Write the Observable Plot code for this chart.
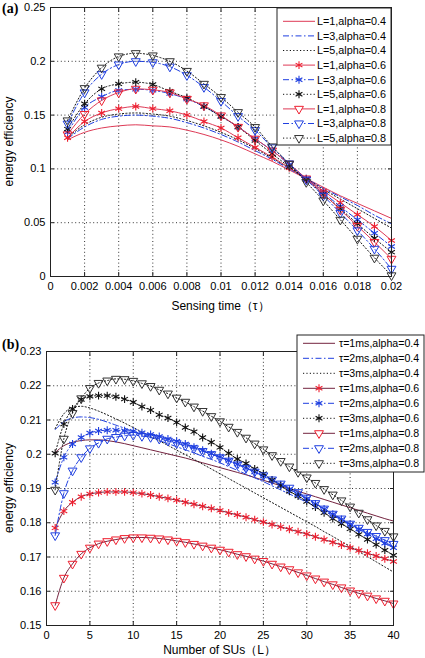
<!DOCTYPE html>
<html><head><meta charset="utf-8">
<script src="https://cdn.jsdelivr.net/npm/d3@7"></script>
<script src="https://cdn.jsdelivr.net/npm/@observablehq/plot@0.6"></script>
<style>
body{margin:0;background:#fff}
#chart svg{display:block}
</style>
</head><body><div id="chart"></div>
<script>
// ---------- Panel (a) data ----------
const tauA = [0.001,0.002,0.003,0.004,0.005,0.006,0.007,0.008,0.009,0.010,0.011,0.012,0.013,0.014,0.015,0.016,0.017,0.018,0.019,0.020];
const xTicksA = [0,0.002,0.004,0.006,0.008,0.010,0.012,0.014,0.016,0.018,0.020];
const yTicksA = [0,0.05,0.10,0.15,0.20,0.25];
const namesA = ["L=1,alpha=0.4","L=3,alpha=0.4","L=5,alpha=0.4","L=1,alpha=0.6","L=3,alpha=0.6","L=5,alpha=0.6","L=1,alpha=0.8","L=3,alpha=0.8","L=5,alpha=0.8"];
const a04L1 = [0.127,0.134,0.138,0.140,0.141,0.140,0.139,0.136,0.132,0.127,0.121,0.114,0.107,0.099,0.091,0.083,0.075,0.068,0.061,0.054];
const a04L3 = [0.128,0.139,0.146,0.149,0.150,0.149,0.147,0.143,0.138,0.132,0.125,0.117,0.109,0.100,0.091,0.082,0.074,0.066,0.057,0.049];
const a04L5 = [0.129,0.141,0.148,0.151,0.152,0.151,0.149,0.145,0.140,0.134,0.127,0.119,0.110,0.101,0.091,0.081,0.072,0.063,0.054,0.045];
const a06L1 = [0.129,0.144,0.152,0.156,0.158,0.156,0.154,0.150,0.144,0.138,0.129,0.120,0.111,0.101,0.091,0.0795,0.0685,0.0575,0.0465,0.0335];
const a06L3 = [0.134,0.157,0.167,0.173,0.174,0.173,0.170,0.165,0.158,0.149,0.139,0.128,0.117,0.104,0.091,0.078,0.065,0.0527,0.0403,0.0279];
const a06L5 = [0.137,0.1605,0.1744,0.179,0.1806,0.1784,0.1722,0.166,0.158,0.1487,0.139,0.1264,0.114,0.102,0.090,0.0765,0.063,0.049,0.0355,0.0226];
const a08L1 = [0.132,0.151,0.1636,0.171,0.1744,0.1735,0.171,0.165,0.159,0.1496,0.139,0.128,0.117,0.1047,0.091,0.077,0.062,0.047,0.032,0.0164];
const a08L3 = [0.142,0.171,0.188,0.197,0.200,0.199,0.195,0.187,0.176,0.163,0.149,0.136,0.120,0.105,0.090,0.075,0.059,0.0428,0.0257,0.0071];
const a08L5 = [0.145,0.175,0.194,0.2045,0.2075,0.2054,0.200,0.191,0.179,0.1667,0.1527,0.1388,0.1208,0.1047,0.0877,0.0706,0.0527,0.035,0.0174,0.001];

// ---------- Panel (b) data ----------
const usersB = [1,2,3,4,5,6,7,8,9,10,11,12,13,14,15,16,17,18,19,20,21,22,23,24,25,26,27,28,29,30,31,32,33,34,35,36,37,38,39,40];
const xTicksB = [0,5,10,15,20,25,30,35,40];
const yTicksB = [0.15,0.16,0.17,0.18,0.19,0.20,0.21,0.22,0.23];
const namesB = ["τ=1ms,alpha=0.4","τ=2ms,alpha=0.4","τ=3ms,alpha=0.4","τ=1ms,alpha=0.6","τ=2ms,alpha=0.6","τ=3ms,alpha=0.6","τ=1ms,alpha=0.8","τ=2ms,alpha=0.8","τ=3ms,alpha=0.8"];
const b04t1 = [0.2005,0.2025,0.2035,0.2040,0.2042,0.2042,0.2040,0.2036,0.2031,0.2025,0.2019,0.2013,0.2007,0.2001,0.1995,0.1989,0.1982,0.1975,0.1968,0.1961,0.1954,0.1947,0.1940,0.1932,0.1924,0.1916,0.1908,0.1900,0.1892,0.1884,0.1876,0.1868,0.1860,0.1852,0.1844,0.1836,0.1828,0.1820,0.1812,0.1805];
const b04t2 = [0.2072,0.2095,0.2106,0.2109,0.2107,0.2102,0.2094,0.2085,0.2076,0.2066,0.2058,0.2049,0.2040,0.2031,0.2022,0.2013,0.2004,0.1994,0.1985,0.1975,0.1964,0.1953,0.1942,0.1931,0.1920,0.1908,0.1896,0.1884,0.1872,0.1860,0.1847,0.1834,0.1821,0.1808,0.1795,0.1782,0.1769,0.1756,0.1743,0.1730];
const b04t3 = [0.2075,0.2118,0.2137,0.2140,0.2135,0.2126,0.2115,0.2103,0.2091,0.2078,0.2065,0.2052,0.2039,0.2026,0.2012,0.1999,0.1985,0.1971,0.1957,0.1943,0.1929,0.1915,0.1901,0.1887,0.1873,0.1859,0.1845,0.1831,0.1817,0.1803,0.1789,0.1774,0.1760,0.1745,0.1731,0.1716,0.1701,0.1686,0.1671,0.1656];
const b06t1 = [0.1785,0.1834,0.1860,0.1876,0.1884,0.1888,0.1890,0.1890,0.1890,0.1888,0.1885,0.1881,0.1876,0.1871,0.1866,0.1860,0.1854,0.1848,0.1842,0.1836,0.1829,0.1823,0.1816,0.1809,0.1802,0.1795,0.1788,0.1781,0.1774,0.1767,0.1759,0.1751,0.1743,0.1735,0.1727,0.1719,0.1711,0.1703,0.1695,0.1687];
const b06t2 = [0.1918,0.1991,0.2030,0.2049,0.2062,0.2068,0.2070,0.2070,0.2069,0.2067,0.2063,0.2058,0.2052,0.2045,0.2038,0.2030,0.2021,0.2012,0.2002,0.1992,0.1982,0.1971,0.1960,0.1948,0.1936,0.1924,0.1911,0.1898,0.1884,0.1870,0.1855,0.1840,0.1825,0.1810,0.1795,0.1781,0.1767,0.1753,0.1740,0.1727];
const b06t3 = [0.2003,0.2088,0.2132,0.2160,0.2169,0.2171,0.2171,0.2168,0.2161,0.2152,0.2139,0.2129,0.2115,0.2106,0.2093,0.2078,0.2066,0.2049,0.2035,0.2020,0.2003,0.1986,0.1973,0.1957,0.1943,0.1925,0.1908,0.1892,0.1878,0.1862,0.1846,0.1829,0.1812,0.1797,0.1782,0.1766,0.1751,0.1736,0.1720,0.1705];
const b08t1 = [0.1559,0.1639,0.1680,0.1709,0.1727,0.1739,0.1746,0.1751,0.1755,0.1757,0.1757,0.1756,0.1754,0.1751,0.1747,0.1743,0.1738,0.1733,0.1727,0.1721,0.1715,0.1708,0.1702,0.1695,0.1688,0.1680,0.1672,0.1664,0.1655,0.1646,0.1637,0.1628,0.1620,0.1611,0.1602,0.1594,0.1587,0.1579,0.1572,0.1564];
const b08t2 = [0.1763,0.1886,0.1952,0.1991,0.2017,0.2033,0.2045,0.2050,0.2054,0.2056,0.2053,0.2050,0.2045,0.2039,0.2032,0.2025,0.2017,0.2009,0.2000,0.1991,0.1981,0.1970,0.1960,0.1949,0.1938,0.1926,0.1914,0.1902,0.1889,0.1873,0.1857,0.1841,0.1826,0.1812,0.1797,0.1785,0.1773,0.1761,0.1749,0.1738];
const b08t3 = [0.1896,0.2045,0.2120,0.2163,0.2193,0.2208,0.2215,0.2220,0.2219,0.2214,0.2207,0.2199,0.2188,0.2177,0.2165,0.2153,0.2139,0.2126,0.2111,0.2096,0.2080,0.2065,0.2048,0.2031,0.2014,0.1997,0.1980,0.1964,0.1948,0.1932,0.1916,0.1898,0.1882,0.1865,0.1847,0.1829,0.1810,0.1792,0.1776,0.1760];

// ---------- styles ----------
const RED_A = "#de3a56", RED_M = "#ee1f2f", BLUE = "#1f3fe0", BLACK = "#111111", MAROON = "#74233f";
const DASHDOT = "6,2.5,1.5,2.5", DOT = "1.2,2.2";
const FONT = "'Liberation Sans', Arial, sans-serif";

const triDown = {
  draw(ctx, size) {
    const R = Math.sqrt(4 * size / (3 * Math.sqrt(3)));
    ctx.moveTo(0, R);
    ctx.lineTo(R * 0.866, -R / 2);
    ctx.lineTo(-R * 0.866, -R / 2);
    ctx.closePath();
  }
};

const fmtNum = d => String(+(+d).toFixed(4));

function makePanel(o) {
  const marks = [
    Plot.gridX(o.xTicks, {stroke: "#000", strokeOpacity: 0.8, strokeDasharray: "1,2.6"}),
    Plot.gridY(o.yTicks, {stroke: "#000", strokeOpacity: 0.8, strokeDasharray: "1,2.6"})
  ];
  o.series.forEach((s, i) => {
    const d = s.values.map((v, j) => ({x: o.xs[j], y: v}));
    marks.push(Plot.line(d, {x: "x", y: "y", stroke: s.line, strokeWidth: 1, strokeDasharray: s.dash, curve: "monotone-x"}));
    if (s.marker === "tri") marks.push(Plot.dot(d, {x: "x", y: "y", symbol: triDown, r: 3.3, stroke: s.mcolor, fill: "none", strokeWidth: 1}));
    if (s.marker === "ast") marks.push(Plot.dot(d, {x: "x", y: "y", symbol: "asterisk", r: 3.7, stroke: s.mcolor, strokeWidth: 1.1}));
  });
  marks.push(Plot.frame({stroke: "#222", strokeWidth: 1}));
  marks.push(Plot.axisX(o.xTicks, {anchor: "bottom", tickSize: 0, tickPadding: o.padX, tickFormat: fmtNum, label: null}));
  marks.push(Plot.axisY(o.yTicks, {anchor: "left", tickSize: 0, tickPadding: o.padY, tickFormat: fmtNum, label: null}));
  marks.push(Plot.axisX(o.xTicks, {anchor: "bottom", tickSize: -4, tickFormat: () => "", label: null, stroke: "#222"}));
  marks.push(Plot.axisX(o.xTicks, {anchor: "top", tickSize: -4, tickFormat: () => "", label: null, stroke: "#222"}));
  marks.push(Plot.axisY(o.yTicks, {anchor: "left", tickSize: -4, tickFormat: () => "", label: null, stroke: "#222"}));
  marks.push(Plot.axisY(o.yTicks, {anchor: "right", tickSize: -4, tickFormat: () => "", label: null, stroke: "#222"}));

  const svg = Plot.plot({
    width: 425, height: o.height,
    marginTop: o.mt, marginBottom: o.mb, marginLeft: o.ml, marginRight: o.mr,
    x: {domain: o.xDomain},
    y: {domain: o.yDomain},
    style: {fontFamily: FONT, fontSize: "11px", color: "#000", background: "#fff", overflow: "visible"},
    marks
  });
  const sel = d3.select(svg);
  // panel label
  sel.append("text").attr("x", 2).attr("y", o.tagY).attr("text-anchor", "start")
    .attr("font-family", "'Liberation Serif', 'Times New Roman', serif").attr("font-weight", "bold").attr("font-size", 14)
    .text(o.tag);
  // axis titles
  const cx = (o.ml + 425 - o.mr) / 2, cy = (o.mt + o.height - o.mb) / 2;
  sel.append("text").attr("x", cx).attr("y", o.xLabelY).attr("text-anchor", "middle")
    .attr("font-family", FONT).attr("font-size", 12).text(o.xLabel);
  sel.append("text").attr("transform", `translate(13,${cy}) rotate(-90)`).attr("text-anchor", "middle")
    .attr("font-family", FONT).attr("font-size", 12).text("energy efficiency");
  // legend
  const L = o.legend;
  const g = sel.append("g");
  g.append("rect").attr("x", L.x0).attr("y", L.y0).attr("width", L.x1 - L.x0).attr("height", L.y1 - L.y0)
    .attr("fill", "#fff").attr("stroke", "#222").attr("stroke-width", 1);
  o.series.forEach((s, i) => {
    const y = L.row0 + i * L.step;
    g.append("line").attr("x1", L.lx0).attr("x2", L.lx1).attr("y1", y).attr("y2", y)
      .attr("stroke", s.line).attr("stroke-width", 1).attr("stroke-dasharray", s.dash || null);
    const mx = (L.lx0 + L.lx1) / 2;
    if (s.marker === "tri") g.append("path").attr("d", d3.symbol(triDown, Math.PI * 3.3 * 3.3)()).attr("transform", `translate(${mx},${y})`)
      .attr("fill", "#fff").attr("stroke", s.mcolor);
    if (s.marker === "ast") g.append("path").attr("d", d3.symbol(d3.symbolAsterisk, Math.PI * 3.7 * 3.7)()).attr("transform", `translate(${mx},${y})`)
      .attr("fill", "none").attr("stroke", s.mcolor).attr("stroke-width", 1.1);
    g.append("text").attr("x", L.tx).attr("y", y).attr("dy", "0.36em").attr("text-anchor", "start")
      .attr("font-family", FONT).attr("font-size", L.fs).text(s.name);
  });
  return svg;
}

const valsA = [a04L1, a04L3, a04L5, a06L1, a06L3, a06L5, a08L1, a08L3, a08L5];
const styleA = [
  {line: RED_A, dash: null, marker: null},
  {line: BLUE, dash: DASHDOT, marker: null},
  {line: BLACK, dash: DOT, marker: null},
  {line: RED_A, dash: null, marker: "ast", mcolor: RED_M},
  {line: BLUE, dash: DASHDOT, marker: "ast", mcolor: BLUE},
  {line: BLACK, dash: DOT, marker: "ast", mcolor: BLACK},
  {line: RED_A, dash: null, marker: "tri", mcolor: RED_M},
  {line: BLUE, dash: DASHDOT, marker: "tri", mcolor: BLUE},
  {line: BLACK, dash: DOT, marker: "tri", mcolor: "#333"}
];
const valsB = [b04t1, b04t2, b04t3, b06t1, b06t2, b06t3, b08t1, b08t2, b08t3];
const styleB = [
  {line: MAROON, dash: null, marker: null},
  {line: BLUE, dash: DASHDOT, marker: null},
  {line: BLACK, dash: DOT, marker: null},
  {line: MAROON, dash: null, marker: "ast", mcolor: RED_M},
  {line: BLUE, dash: DASHDOT, marker: "ast", mcolor: BLUE},
  {line: BLACK, dash: DOT, marker: "ast", mcolor: BLACK},
  {line: MAROON, dash: null, marker: "tri", mcolor: RED_M},
  {line: BLUE, dash: DASHDOT, marker: "tri", mcolor: BLUE},
  {line: BLACK, dash: DOT, marker: "tri", mcolor: "#333"}
];

const chart = document.getElementById("chart");
chart.appendChild(makePanel({
  tag: "(a)", tagY: 13, height: 325, mt: 7, mb: 49, ml: 50, mr: 34,
  xs: tauA, xTicks: xTicksA, yTicks: yTicksA, xDomain: [0, 0.02], yDomain: [0, 0.25],
  padX: 6, padY: 5, xLabel: "Sensing time（τ）", xLabelY: 310,
  series: namesA.map((n, i) => ({name: n, values: valsA[i], ...styleA[i]})),
  legend: {x0: 277, x1: 391, y0: 8, y1: 145, row0: 21.3, step: 14.6, lx0: 283, lx1: 315, tx: 317, fs: 10.8}
}));
chart.appendChild(makePanel({
  tag: "(b)", tagY: 24, height: 333, mt: 26, mb: 33, ml: 46, mr: 32,
  xs: usersB, xTicks: xTicksB, yTicks: yTicksB, xDomain: [0, 40], yDomain: [0.15, 0.23],
  padX: 6, padY: 5, xLabel: "Number of SUs（L）", xLabelY: 329,
  series: namesB.map((n, i) => ({name: n, values: valsB[i], ...styleB[i]})),
  legend: {x0: 297, x1: 424, y0: 10, y1: 147, row0: 18.3, step: 15, lx0: 303, lx1: 335, tx: 339, fs: 10.6}
}));
</script></body></html>
